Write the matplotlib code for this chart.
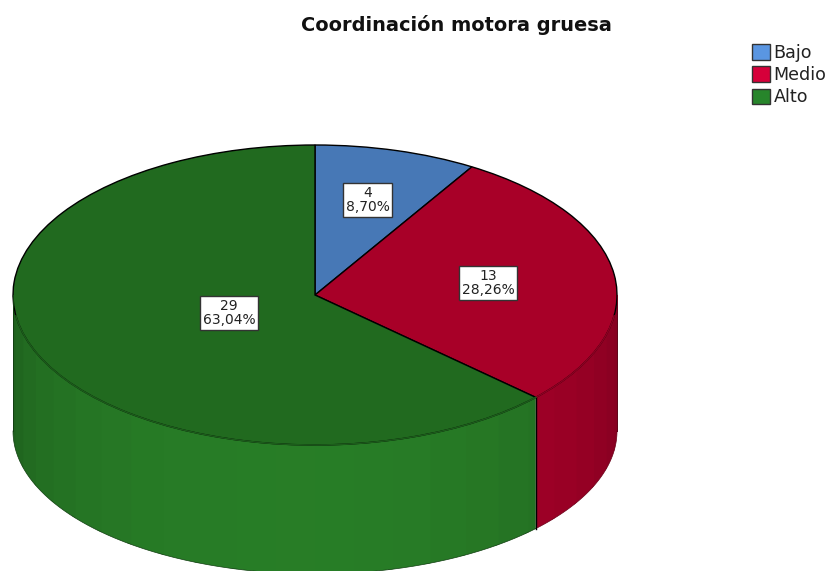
import numpy as np
import matplotlib
matplotlib.use("Agg")
import matplotlib.pyplot as plt
from matplotlib.patches import Patch

title = "Coordinación motora gruesa"
categories = ["Bajo", "Medio", "Alto"]
counts = [4, 13, 29]
percent_labels = ["8,70%", "28,26%", "63,04%"]

top_colors = ["#4778b6", "#a80028", "#216a1f"]
wall_bright = {"Medio": (0.66, 0.0, 0.16), "Alto": (0.155, 0.49, 0.15)}
swatch_colors = ["#5a96e2", "#d6003a", "#27852b"]
label_px = [(367.5, 200), (488, 283), (229, 313)]

W, H = 830, 571
CX, CY, RX, RY = 315, 295, 302, 150
WALL_OFFSET = 136 / RY      # centre of the lower rim below the top rim
BOTTOM_SCALE = 143 / RY     # vertical radius of the lower rim

fig = plt.figure(figsize=(W / 100, H / 100), dpi=100, facecolor="white")
ax = fig.add_axes([0, 0, 1, 1])

wedges, _ = ax.pie(counts, startangle=90, counterclock=False, radius=1,
                   colors=top_colors,
                   wedgeprops=dict(edgecolor="black", linewidth=1.0, zorder=3))
ax.set_aspect("auto")
ax.set_xlim((0 - CX) / RX, (W - CX) / RX)
ax.set_ylim((CY - H) / RY, (CY - 0) / RY)
ax.axis("off")


def to_xy(px, py):
    return (px - CX) / RX, (CY - py) / RY


fractions = np.cumsum(counts) / np.sum(counts)
seam_deg = 90 - 360 * fractions[1]      # Medio / Alto boundary (math angle)


def shade(theta_deg, bright, depth):
    """Side wall shading: brightest near the front, darker to either edge."""
    d = abs(theta_deg - (-95)) / 90
    f = 1 - depth * np.clip(d, 0, 1) ** 2.0
    return tuple(c * f for c in bright)


def wall_band(a0, a1, color, limit):
    # Each band runs slightly under the next one so that no seam shows
    end = max(a1 - 1.0, limit)
    t = np.radians(np.linspace(a0, end, 24))
    x = np.cos(t)
    top = np.sin(t)
    bot = -WALL_OFFSET + BOTTOM_SCALE * np.sin(t)
    ax.fill_between(x, bot, top, facecolor=color, edgecolor="none",
                    linewidth=0, zorder=2)


step = 7.5
red_edges = np.append(np.arange(0, seam_deg - 0.01, -step), seam_deg)
for a0, a1 in zip(red_edges[:-1], red_edges[1:]):
    wall_band(a0, a1, shade((a0 + a1) / 2, wall_bright["Medio"], 0.2), seam_deg)

green_edges = np.append(np.arange(-180, seam_deg + 0.01, step), seam_deg)[::-1]
for a0, a1 in zip(green_edges[:-1], green_edges[1:]):
    wall_band(a0, a1, shade((a0 + a1) / 2, wall_bright["Alto"], 0.27), -180)

# Outer silhouette of the wall and the seam
t = np.radians(np.linspace(0, seam_deg, 100))
ax.plot(np.cos(t), -WALL_OFFSET + BOTTOM_SCALE * np.sin(t), color="#6a0018",
        lw=0.5, zorder=4)
t = np.radians(np.linspace(seam_deg, -180, 300))
ax.plot(np.cos(t), -WALL_OFFSET + BOTTOM_SCALE * np.sin(t), color="#123f12",
        lw=0.5, zorder=4)
ax.plot([1, 1], [0, -WALL_OFFSET], color="#5a0014", lw=0.7, zorder=4)
ax.plot([-1, -1], [0, -WALL_OFFSET], color="#123f12", lw=0.7, zorder=4)
sx, sy = np.cos(np.radians(seam_deg)), np.sin(np.radians(seam_deg))
ax.plot([sx, sx], [sy, -WALL_OFFSET + BOTTOM_SCALE * sy], color="black",
        lw=1.0, zorder=4)

# Soft rim between the top face and the wall on the front side
t1 = np.radians(np.linspace(-8, seam_deg, 80))
ax.plot(np.cos(t1), np.sin(t1), color="#8f0022", lw=1.1, zorder=4)
t2 = np.radians(np.linspace(seam_deg, -172, 200))
ax.plot(np.cos(t2), np.sin(t2), color="#1c5c1b", lw=1.1, zorder=4)

# Value labels
for (px, py), n, pct in zip(label_px, counts, percent_labels):
    x, y = to_xy(px, py)
    ax.text(x, y, f"{n}\n{pct}", ha="center", va="center", fontsize=10.0,
            color="#222222", linespacing=1.08, zorder=6,
            bbox=dict(boxstyle="square,pad=0.2", facecolor="white",
                      edgecolor="#333333", linewidth=1.0))

# Title
tx, ty = to_xy(456.5, 25)
ax.text(tx, ty, title, ha="center", va="center", fontsize=13.95,
        fontweight="bold", color="#111111")

# Legend
handles = [Patch(facecolor=c, edgecolor="#333333", linewidth=1.0, label=l)
           for c, l in zip(swatch_colors, categories)]
leg = ax.legend(handles=handles, loc="upper left",
                bbox_to_anchor=(752 / W, 1 - 44 / H),
                bbox_transform=ax.transAxes, frameon=False, fontsize=12.6,
                handlelength=1.02, handleheight=1.0, handletextpad=0.22,
                labelspacing=0.24, borderpad=0, borderaxespad=0)
for txt in leg.get_texts():
    txt.set_color("#222222")

fig.savefig("out.png", dpi=100, facecolor="white")
